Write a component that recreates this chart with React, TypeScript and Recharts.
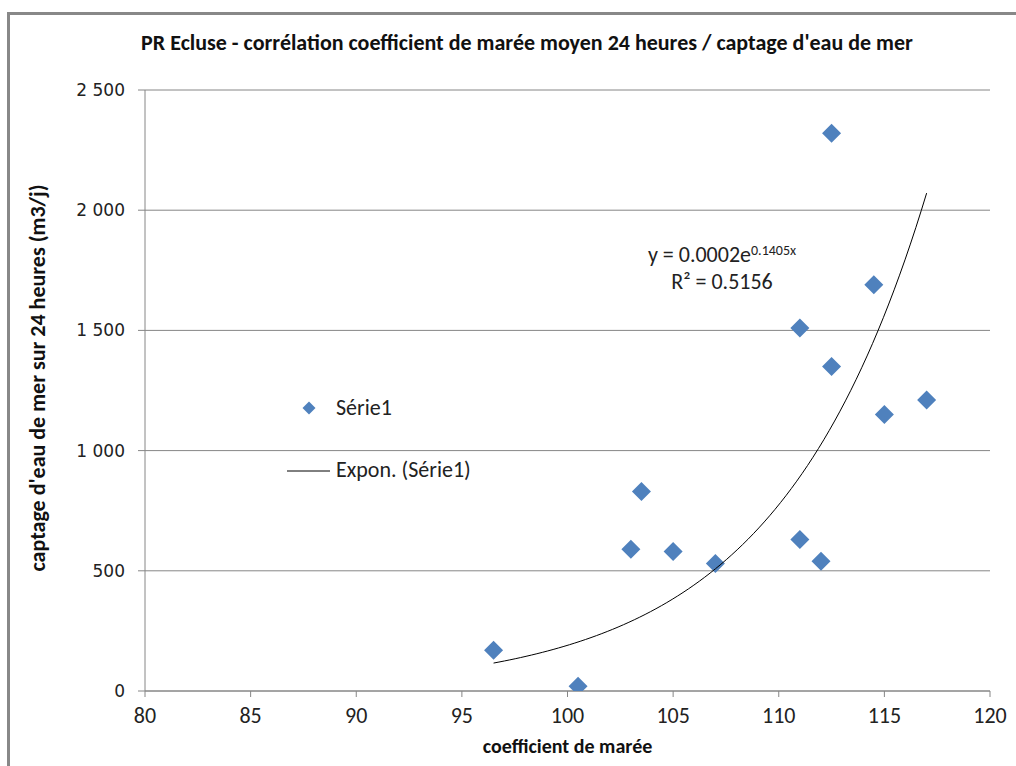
import React from 'react';
import { ScatterChart, Scatter, XAxis, YAxis, CartesianGrid } from 'recharts';

const coefficients = [96.5, 100.5, 103, 103.5, 105, 107, 111, 111, 112, 112.5, 112.5, 114.5, 115, 117];
const captage = [170, 20, 590, 830, 580, 530, 1510, 630, 540, 2320, 1350, 1690, 1150, 1210];
const xTicks = [80, 85, 90, 95, 100, 105, 110, 115, 120];
const yTicks = [0, 500, 1000, 1500, 2000, 2500];

const seriesName = 'Série1';
const trendName = 'Expon. (Série1)';
const title = "PR Ecluse - corrélation coefficient de marée moyen 24 heures / captage d'eau de mer";
const xLabel = 'coefficient de marée';
const yLabel = "captage d'eau de mer sur 24 heures (m3/j)";
const equationText = 'y = 0.0002e';
const exponentText = '0.1405x';
const r2Text = 'R² = 0.5156';

const points = coefficients.map((x, i) => ({ x, y: captage[i] }));

// Exponential least-squares fit (ln y = ln a + b x), as the spreadsheet trendline does
const n = coefficients.length;
const mx = coefficients.reduce((s, v) => s + v, 0) / n;
const lny = captage.map((v) => Math.log(v));
const my = lny.reduce((s, v) => s + v, 0) / n;
let sxy = 0;
let sxx = 0;
coefficients.forEach((x, i) => {
  sxy += (x - mx) * (lny[i] - my);
  sxx += (x - mx) * (x - mx);
});
const b = sxy / sxx;
const a = Math.exp(my - b * mx);
const xMin = Math.min(...coefficients);
const xMax = Math.max(...coefficients);
const trend: { x: number; y: number }[] = [];
for (let k = 0; k <= 80; k++) {
  const x = xMin + ((xMax - xMin) * k) / 80;
  trend.push({ x, y: a * Math.exp(b * x) });
}

const BLUE = '#4F81BD';
const GRID = '#868686';
const FONT = "Carlito, 'Liberation Sans Narrow', Lato, sans-serif";
const TICK_FONT = "'DejaVu Sans', Verdana, sans-serif";

const Diamond = (props: any) => {
  const { cx, cy } = props;
  if (cx == null || cy == null) return <g />;
  const r = 9.5;
  return (
    <polygon
      points={`${cx},${cy - r} ${cx + r},${cy} ${cx},${cy + r} ${cx - r},${cy}`}
      fill={BLUE}
    />
  );
};

const fmtY = (v: number) => {
  const s = String(v);
  return s.length > 3 ? s.slice(0, s.length - 3) + ' ' + s.slice(s.length - 3) : s;
};

export default function App() {
  return (
    <div style={{ position: 'absolute', left: 0, top: 0, width: 1016, height: 766, background: '#fff', overflow: 'hidden' }}>
      <div
        style={{
          position: 'absolute',
          left: 7,
          top: 12,
          width: 1016,
          height: 800,
          borderLeft: '3px solid #888',
          borderTop: '3px solid #888',
        }}
      />
      <ScatterChart
        width={1016}
        height={766}
        margin={{ top: 90, right: 26, bottom: 0, left: 0 }}
        style={{ position: 'absolute', left: 0, top: 0 }}
      >
        <CartesianGrid horizontal vertical={false} stroke={GRID} strokeWidth={1} />
        <XAxis
          type="number"
          dataKey="x"
          domain={[80, 120]}
          ticks={xTicks}
          allowDataOverflow
          axisLine={{ stroke: GRID }}
          tickLine={{ stroke: GRID }}
          tickSize={6}
          tick={{ fill: '#222', fontSize: 22, fontFamily: FONT }}
          tickMargin={10}
          height={75}
        />
        <YAxis
          type="number"
          dataKey="y"
          domain={[0, 2500]}
          ticks={yTicks}
          allowDataOverflow
          width={145}
          axisLine={{ stroke: GRID }}
          tickLine={{ stroke: GRID }}
          tickSize={7}
          tickFormatter={fmtY}
          tick={{ fill: '#222', fontSize: 17, fontFamily: TICK_FONT }}
          tickMargin={13}
        />
        <Scatter name={seriesName} data={points} shape={Diamond} isAnimationActive={false} />
        <Scatter
          name={trendName}
          data={trend}
          shape={() => <g />}
          line={{ stroke: '#000', strokeWidth: 1 }}
          lineType="joint"
          isAnimationActive={false}
          legendType="none"
        />
      </ScatterChart>
      {/* legend */}
      <div style={{ position: 'absolute', left: 280, top: 394, fontFamily: FONT, fontSize: 22, color: '#222', lineHeight: '28px' }}>
        <div style={{ display: 'flex', alignItems: 'center', height: 28 }}>
          <svg width={56} height={20}>
            <polygon points="29,3.5 35.5,10 29,16.5 22.5,10" fill={BLUE} />
          </svg>
          <span>{seriesName}</span>
        </div>
        <div style={{ height: 34 }} />
        <div style={{ display: 'flex', alignItems: 'center', height: 28 }}>
          <svg width={56} height={20}>
            <line x1={7} y1={11} x2={50} y2={11} stroke="#000" strokeWidth={1} />
          </svg>
          <span>{trendName}</span>
        </div>
      </div>
      <div
        style={{
          position: 'absolute',
          left: 0,
          width: 1054,
          top: 29,
          textAlign: 'center',
          fontFamily: FONT,
          fontWeight: 'bold',
          fontSize: 22,
          color: '#111',
          whiteSpace: 'nowrap',
        }}
      >
        {title}
      </div>
      <div
        style={{
          position: 'absolute',
          left: 145,
          width: 845,
          top: 734,
          textAlign: 'center',
          fontFamily: FONT,
          fontWeight: 'bold',
          fontSize: 20,
          color: '#111',
        }}
      >
        {xLabel}
      </div>
      <div style={{ position: 'absolute', left: 38, top: 378, width: 0, height: 0 }}>
        <div
          style={{
            position: 'absolute',
            left: -300,
            top: -13,
            width: 600,
            textAlign: 'center',
            transform: 'rotate(-90deg)',
            fontFamily: FONT,
            fontWeight: 'bold',
            fontSize: 22,
            lineHeight: '26px',
            color: '#111',
            whiteSpace: 'nowrap',
          }}
        >
          {yLabel}
        </div>
      </div>
      <div
        style={{
          position: 'absolute',
          left: 612,
          width: 220,
          top: 237,
          textAlign: 'center',
          fontFamily: FONT,
          fontSize: 22,
          lineHeight: '27px',
          color: '#222',
        }}
      >
        <div>
          {equationText}
          <sup style={{ fontSize: 14, verticalAlign: '7px' }}>{exponentText}</sup>
        </div>
        <div>{r2Text}</div>
      </div>
    </div>
  );
}
